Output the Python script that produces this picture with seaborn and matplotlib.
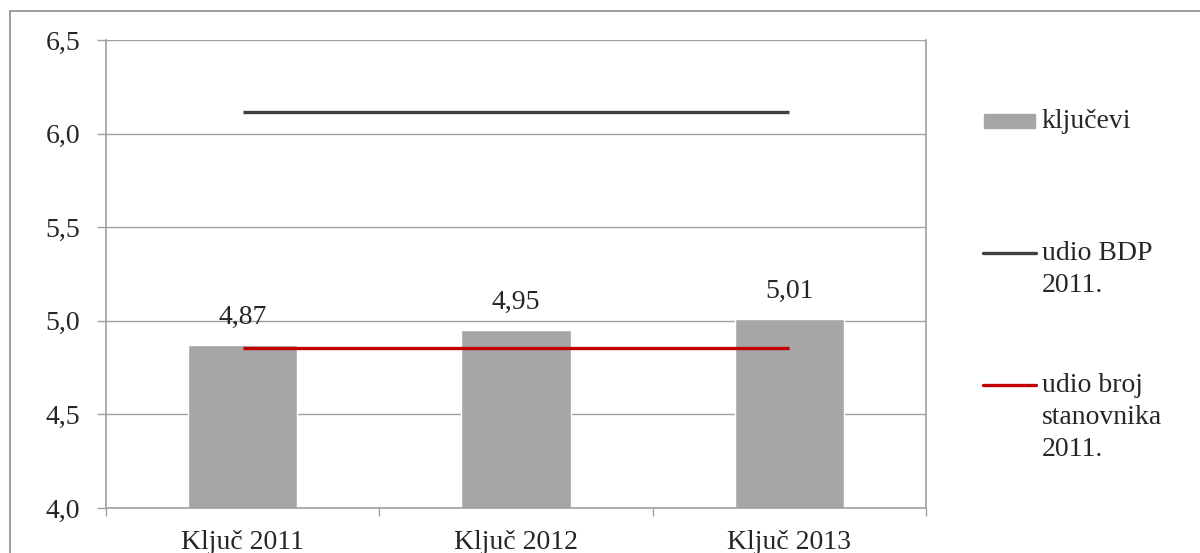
import matplotlib
matplotlib.use("Agg")
import matplotlib.pyplot as plt
import matplotlib.patches as mpatches
from matplotlib.lines import Line2D
import pandas as pd
import seaborn as sns

# data
categories = ['Ključ 2011', 'Ključ 2012', 'Ključ 2013']
kljucevi = [4.87, 4.95, 5.01]
udio_bdp = [6.115, 6.115, 6.115]
udio_stanovnika = [4.855, 4.855, 4.855]
y_ticks = [4.0, 4.5, 5.0, 5.5, 6.0, 6.5]

BAR_COLOR = '#a6a6a6'
BDP_COLOR = '#404040'
POP_COLOR = '#c00000'
GRID = '#a0a0a0'
FS = 20

sns.set_theme(style='white')
plt.rcParams['font.family'] = ['Liberation Serif', 'DejaVu Serif']

df = pd.DataFrame({'kategorija': categories, 'kljucevi': kljucevi,
                   'bdp': udio_bdp, 'stan': udio_stanovnika})

fig = plt.figure(figsize=(12, 5.53), dpi=100)
ax = fig.add_axes([106 / 1200, 45 / 553, 820 / 1200, 468 / 553])

sns.barplot(data=df, x='kategorija', y='kljucevi', color=BAR_COLOR,
            width=0.4, saturation=1, ax=ax, zorder=2)
ax.plot(range(len(categories)), df['bdp'], color=BDP_COLOR, lw=2.4, zorder=3,
        solid_capstyle='butt')
ax.plot(range(len(categories)), df['stan'], color=POP_COLOR, lw=2.4, zorder=3,
        solid_capstyle='butt')

# value labels
for i, v in enumerate(kljucevi):
    ax.annotate(f'{v:.2f}'.replace('.', ','), (i, v), xytext=(0, 11),
                textcoords='offset points', ha='center', va='bottom', fontsize=FS)

ax.set_ylim(4.0, 6.5)
ax.set_xlim(-0.5, 2.5)
ax.set_yticks(y_ticks)
ax.set_yticklabels([f'{t:.1f}'.replace('.', ',') for t in y_ticks], fontsize=FS)
ax.yaxis.grid(True, color=GRID, lw=1)
ax.set_axisbelow(True)
ax.set_xlabel('')
ax.set_ylabel('')
ax.tick_params(axis='y', length=6.5, color=GRID, width=1, pad=12, left=True)
ax.tick_params(axis='x', which='major', length=0, pad=16, labelsize=FS)
ax.set_xticks([-0.5, 0.5, 1.5, 2.5], minor=True)
ax.tick_params(axis='x', which='minor', length=6, color=GRID, width=1, bottom=True)
for s in ['left', 'bottom', 'right']:
    ax.spines[s].set_visible(True)
    ax.spines[s].set_color(GRID)
    ax.spines[s].set_linewidth(1.2)
ax.spines['top'].set_visible(False)

# legend, placed by hand like the original
fig.patches.append(mpatches.Rectangle((984 / 1200, 1 - 128 / 553), 51 / 1200, 14 / 553,
                                      transform=fig.transFigure, color=BAR_COLOR))
fig.text(1042 / 1200, 1 - 121 / 553, 'ključevi', fontsize=FS, va='center')
fig.add_artist(Line2D([983 / 1200, 1036 / 1200], [1 - 253 / 553] * 2,
                      transform=fig.transFigure, color=BDP_COLOR, lw=2.4))
fig.text(1042 / 1200, 1 - 241 / 553, 'udio BDP\n2011.', fontsize=FS, va='top',
         linespacing=1.37)
fig.add_artist(Line2D([983 / 1200, 1036 / 1200], [1 - 385 / 553] * 2,
                      transform=fig.transFigure, color=POP_COLOR, lw=2.4))
fig.text(1042 / 1200, 1 - 373 / 553, 'udio broj\nstanovnika\n2011.', fontsize=FS,
         va='top', linespacing=1.37)

# outer chart border (runs past the right and bottom edges)
fig.patches.append(mpatches.Rectangle((10 / 1200, -0.05), 1.1, 1 - 11 / 553 + 0.05,
                                      transform=fig.transFigure, fill=False,
                                      edgecolor='#8c8c8c', lw=1.2))

fig.savefig('out.png', dpi=100)
